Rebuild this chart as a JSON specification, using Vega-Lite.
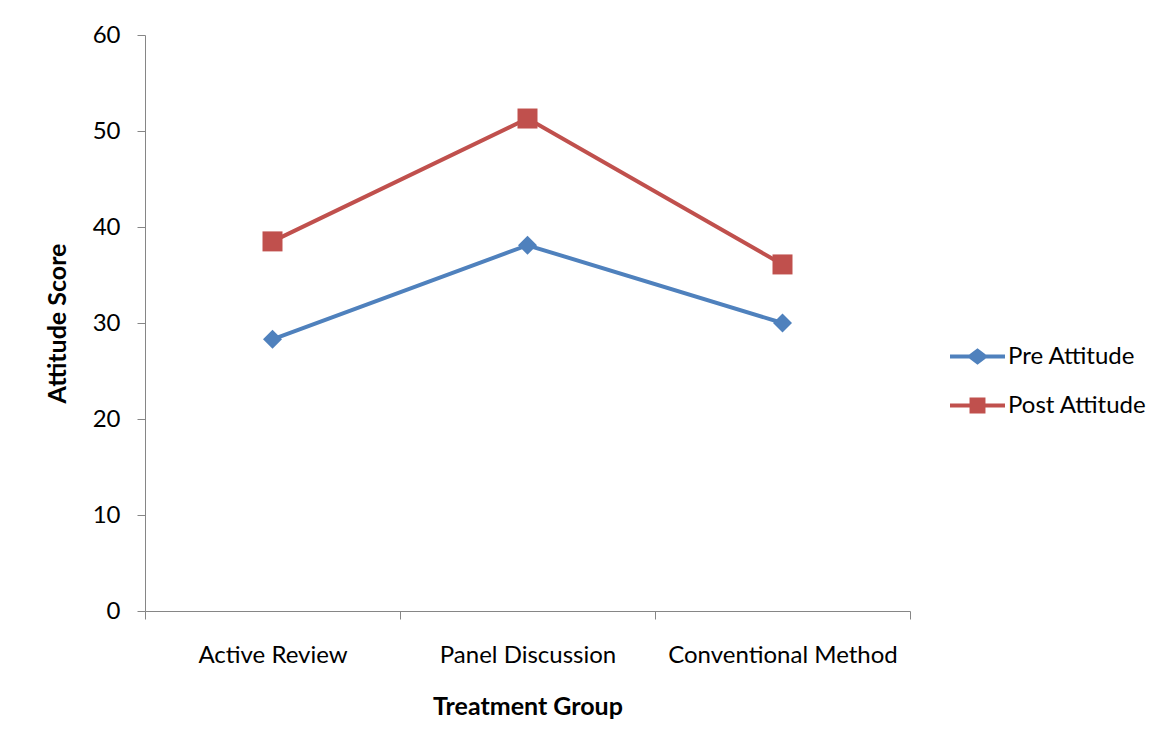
{
  "$schema": "https://vega.github.io/schema/vega-lite/v6.json",
  "width": 765,
  "height": 576,
  "autosize": {"type": "none"},
  "padding": {"left": 145, "top": 35, "right": 265, "bottom": 140},
  "background": "white",
  "config": {
    "view": {"stroke": null},
    "font": "Lato",
    "axis": {
      "domainColor": "#868686",
      "tickColor": "#868686",
      "domainWidth": 1,
      "tickWidth": 1,
      "tickSize": 8,
      "grid": false,
      "labelFont": "Lato",
      "labelFontSize": 24,
      "labelColor": "#000000",
      "labelLimit": 400,
      "titleFont": "Lato",
      "titleFontSize": 25,
      "titleFontWeight": "bold",
      "titleColor": "#000000"
    },
    "legend": {"labelFont": "Lato", "labelFontSize": 24, "labelColor": "#000000"}
  },
  "data": {
    "values": [
      {"group": "Active Review", "series": "Pre Attitude", "score": 28.3},
      {"group": "Panel Discussion", "series": "Pre Attitude", "score": 38.1},
      {"group": "Conventional Method", "series": "Pre Attitude", "score": 30.0},
      {"group": "Active Review", "series": "Post Attitude", "score": 38.5},
      {"group": "Panel Discussion", "series": "Post Attitude", "score": 51.3},
      {"group": "Conventional Method", "series": "Post Attitude", "score": 36.1}
    ]
  },
  "encoding": {
    "x": {
      "field": "group",
      "type": "nominal",
      "sort": ["Active Review", "Panel Discussion", "Conventional Method"],
      "scale": {"paddingInner": 0, "paddingOuter": 0},
      "axis": {
        "title": "Treatment Group",
        "labelAngle": 0,
        "tickBand": "extent",
        "labelPadding": 24,
        "titlePadding": 27
      }
    },
    "y": {
      "field": "score",
      "type": "quantitative",
      "scale": {"domain": [0, 60], "nice": false},
      "axis": {
        "title": "Attitude Score",
        "values": [0, 10, 20, 30, 40, 50, 60],
        "labelPadding": 17,
        "titlePadding": 22
      }
    }
  },
  "layer": [
    {
      "mark": {"type": "line", "strokeWidth": 4},
      "encoding": {
        "color": {
          "field": "series",
          "type": "nominal",
          "sort": ["Pre Attitude", "Post Attitude"],
          "scale": {"domain": ["Pre Attitude", "Post Attitude"], "range": ["#4F81BD", "#C0504D"]},
          "legend": {
            "title": null,
            "orient": "none",
            "legendX": 805,
            "legendY": 294,
            "symbolSize": 3025,
            "symbolStrokeWidth": 0,
            "rowPadding": 9,
            "labelOffset": 3,
            "labelLimit": 300,
            "encode": {
              "symbols": {
                "update": {
                  "shape": {"signal": "datum.value === 'Pre Attitude' ? 'M-1,-0.075H-0.3L0,-0.3L0.3,-0.075H1V0.075H0.3L0,0.3L-0.3,0.075H-1Z' : 'M-1,-0.075H-0.29V-0.29H0.29V-0.075H1V0.075H0.29V0.29H-0.29V0.075H-1Z'"},
                  "fill": {"signal": "datum.value === 'Pre Attitude' ? '#4F81BD' : '#C0504D'"},
                  "strokeWidth": {"value": 0},
                  "opacity": {"value": 1}
                }
              }
            }
          }
        }
      }
    },
    {
      "transform": [{"filter": "datum.series === 'Pre Attitude'"}],
      "mark": {"type": "point", "shape": "diamond", "filled": true, "opacity": 1, "size": 360, "color": "#4F81BD"}
    },
    {
      "transform": [{"filter": "datum.series === 'Post Attitude'"}],
      "mark": {"type": "point", "shape": "square", "filled": true, "opacity": 1, "size": 400, "color": "#C0504D"}
    }
  ]
}
